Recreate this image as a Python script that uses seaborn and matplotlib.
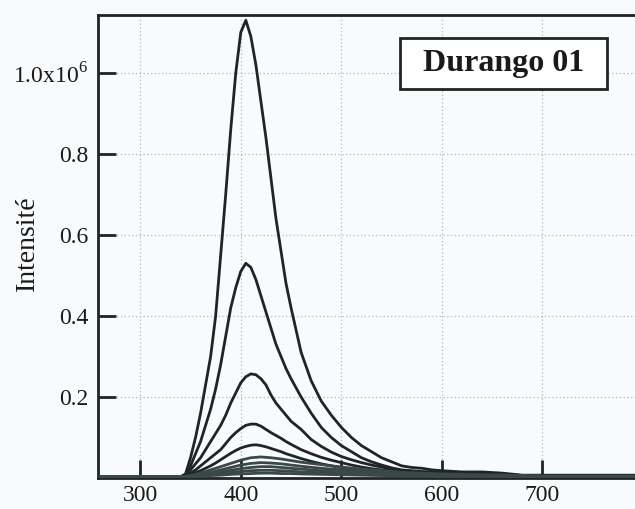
import matplotlib
matplotlib.use('Agg')
import matplotlib.pyplot as plt
import matplotlib.patches as mpatches
import seaborn as sns
import numpy as np
import pandas as pd

# wavelength grid (nm) for the five strongest spectra
wl = [260, 340, 345, 350, 355, 360, 365, 370, 375, 380, 385, 390, 395, 400,
      405, 410, 415, 420, 425, 430, 435, 440, 445, 450, 460, 470, 480, 490,
      500, 510, 520, 530, 540, 550, 560, 570, 580, 590, 600, 620, 640, 660,
      680, 700, 750, 800]

# intensities in units of 1e6
c1 = [.003, .003, .01, .05, .10, .16, .23, .30, .40, .55, .70, .86, 1.00, 1.10,
      1.13, 1.09, 1.02, .93, .84, .74, .64, .56, .48, .42, .31, .24, .19, .155,
      .125, .10, .08, .065, .05, .04, .03, .026, .024, .02, .018, .015, .015, .012,
      .007, .007, .007, .007]
c2 = [.003, .003, .008, .03, .06, .09, .13, .17, .22, .28, .35, .42, .47, .51,
      .53, .52, .49, .45, .41, .37, .33, .30, .27, .245, .20, .16, .125, .10,
      .08, .065, .05, .04, .032, .025, .02, .018, .016, .015, .014, .012, .012, .01,
      .006, .006, .006, .006]
c3 = [.003, .003, .006, .02, .035, .05, .07, .09, .11, .13, .155, .185, .21, .235,
      .25, .257, .255, .245, .23, .205, .185, .17, .155, .14, .12, .095, .078, .064,
      .053, .045, .038, .032, .027, .022, .018, .016, .014, .013, .012, .011, .01, .009,
      .005, .005, .005, .005]
c4 = [.003, .003, .005, .012, .02, .03, .04, .05, .06, .07, .085, .10, .112, .122,
      .13, .133, .133, .128, .12, .112, .105, .098, .09, .083, .07, .06, .051, .044,
      .038, .032, .027, .023, .02, .017, .015, .013, .012, .011, .01, .009, .008, .008,
      .005, .005, .005, .005]
c5 = [.003, .003, .004, .008, .013, .018, .024, .03, .037, .045, .053, .061, .068, .074,
      .078, .081, .082, .08, .077, .073, .069, .065, .06, .056, .048, .041, .035, .03,
      .026, .022, .019, .016, .014, .012, .011, .01, .009, .009, .008, .008, .007, .007,
      .005, .005, .005, .005]

# coarser grid for the weak spectra
wl_small = [260, 340, 350, 360, 370, 380, 390, 400, 410, 420, 430, 440, 450, 460,
            480, 500, 520, 540, 560, 580, 600, 660, 700, 800]
c6 = [.003, .003, .006, .012, .02, .028, .036, .044, .05, .052, .05, .047, .043, .039,
      .033, .027, .022, .018, .014, .012, .01, .007, .005, .005]
c7 = [.003, .003, .005, .009, .014, .02, .026, .032, .036, .038, .037, .035, .032, .029,
      .024, .02, .016, .013, .011, .009, .008, .006, .004, .004]
c8 = [.003, .003, .004, .007, .011, .015, .019, .023, .026, .028, .028, .026, .024, .022,
      .018, .015, .012, .01, .008, .007, .006, .005, .004, .004]
c9 = [.003, .003, .004, .006, .008, .011, .014, .016, .018, .019, .019, .018, .017, .015,
      .013, .011, .009, .008, .007, .006, .005, .004, .003, .003]
c10 = [.003, .003, .003, .004, .006, .007, .009, .01, .011, .012, .012, .011, .011, .01,
       .009, .008, .007, .006, .005, .005, .004, .004, .003, .003]

xticks = [300, 400, 500, 600, 700]
yticks = [0.2, 0.4, 0.6, 0.8, 1.0]
ytick_labels = ['0.2', '0.4', '0.6', '0.8', r'1.0x10$^{6}$']
label_text = 'Durango 01'

sns.set_style('white')
plt.rcParams['font.family'] = ['Liberation Serif', 'DejaVu Serif']
plt.rcParams['mathtext.fontset'] = 'custom'
plt.rcParams['mathtext.rm'] = 'Liberation Serif'

bg = '#f8fafb'
ink = '#1e2525'

fig = plt.figure(figsize=(6.35, 5.09), dpi=100, facecolor=bg)
ax = fig.add_axes([98 / 635, 31 / 509, 542 / 635, 463 / 509])
ax.set_facecolor(bg)

for w, c in [(wl, c1), (wl, c2), (wl, c3), (wl, c4), (wl, c5)]:
    sns.lineplot(x=w, y=c, ax=ax, color=ink, lw=2.0, estimator=None, zorder=3)
for c in [c6, c7, c8, c9, c10]:
    sns.lineplot(x=wl_small, y=c, ax=ax, color='#3a4847', lw=2.0,
                 estimator=None, zorder=3)

ax.set_xlim(258, 797)
ax.set_ylim(0, 1.143)
ax.set_xticks(xticks)
ax.set_xticklabels([str(t) for t in xticks])
ax.set_yticks(yticks)
ax.set_yticklabels(ytick_labels)
ax.tick_params(axis='both', direction='in', length=13, width=2, color=ink,
               labelsize=17, labelcolor='#1a1a1a', bottom=True, left=True,
               top=False, right=False)
ax.tick_params(axis='x', pad=5)
ax.tick_params(axis='y', pad=7)
ax.grid(True, color='#b4b8ba', lw=0.9, linestyle=(0, (1, 2)))
ax.set_axisbelow(True)

for side in ['left', 'top', 'bottom']:
    ax.spines[side].set_color(ink)
    ax.spines[side].set_linewidth(2)
ax.spines['right'].set_visible(False)

fig.text(27 / 635, 1 - 243 / 509, 'Intensité', rotation=90, ha='center',
         va='center', fontsize=20, color='#1a1a1a')

box = mpatches.Rectangle((400 / 635, 1 - 89 / 509), 207 / 635, 51 / 509,
                         transform=fig.transFigure, facecolor='white',
                         edgecolor=ink, lw=2, zorder=5)
ax.add_patch(box)
fig.text(504 / 635, 1 - 63 / 509, label_text, ha='center', va='center',
         fontsize=23, fontweight='bold', color='#1a1a1a', zorder=6)

fig.savefig('out.png', dpi=100, facecolor=bg)
